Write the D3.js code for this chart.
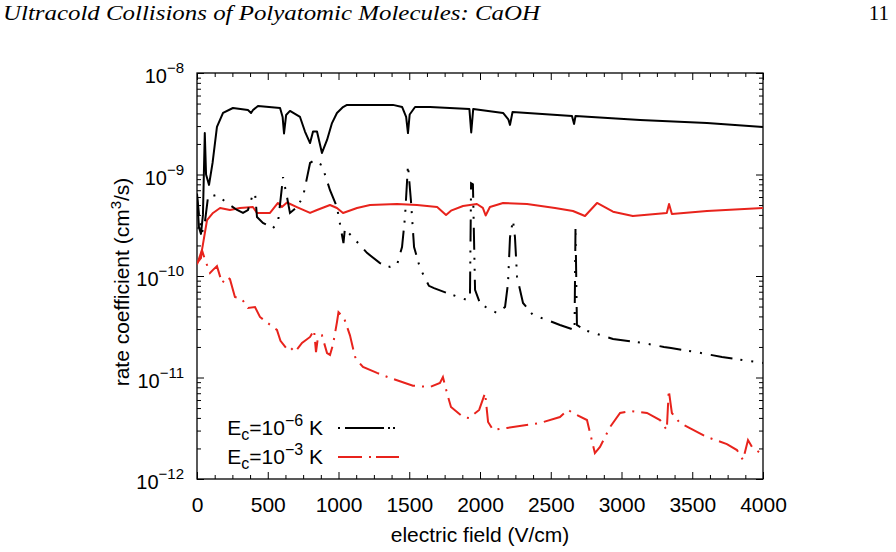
<!DOCTYPE html>
<html>
<head>
<meta charset="utf-8">
<script src="https://cdn.jsdelivr.net/npm/d3@7"></script>
<style>
  body { margin: 0; background: #fff; }
  svg { display: block; }
  text { font-family: "Liberation Sans", Arial, sans-serif; fill: #000; }
</style>
</head>
<body>
<div id="chart"></div>
<script>
// rate coefficients (cm^3/s) vs electric field (V/cm)
const elastic1uK = [
  [0, 6.0e-10], [14, 3.0e-10], [28, 2.6e-10], [42, 4.0e-10], [55, 2.56e-9], [64, 1.0e-9],
  [85, 7.9e-10], [110, 1.3e-9], [141, 2.94e-9], [184, 4.04e-9], [254, 4.52e-9], [360, 4.32e-9],
  [382, 4.04e-9], [396, 4.32e-9], [431, 4.73e-9], [587, 4.52e-9], [605, 3.69e-9], [615, 2.54e-9],
  [630, 3.86e-9], [657, 4.23e-9], [728, 3.69e-9], [763, 2.65e-9], [799, 2.04e-9], [820, 2.65e-9],
  [848, 2.65e-9], [883, 1.63e-9], [919, 2.19e-9], [954, 3.21e-9], [989, 4.04e-9], [1032, 4.62e-9],
  [1060, 4.85e-9], [1385, 4.85e-9], [1450, 4.62e-9], [1478, 3.7e-9], [1491, 2.56e-9], [1503, 3.9e-9],
  [1541, 4.62e-9], [1647, 4.62e-9], [1925, 4.42e-9], [1938, 2.6e-9], [1952, 4.42e-9], [2163, 4.04e-9],
  [2200, 3.5e-9], [2212, 3.08e-9], [2230, 4.13e-9], [2650, 3.77e-9], [2665, 3.15e-9], [2675, 3.77e-9],
  [3131, 3.44e-9], [3604, 3.21e-9], [4000, 2.94e-9]
];

const inelastic1uK = [
  [0, 6.5e-10], [14, 4.0e-10], [35, 2.65e-10], [57, 3.5e-10], [78, 6.0e-10], [141, 6.3e-10],
  [212, 5.24e-10], [283, 4.47e-10], [325, 4.18e-10], [360, 4.47e-10], [389, 6.0e-10], [410, 6.6e-10],
  [424, 3.81e-10], [466, 3.33e-10], [537, 2.97e-10], [572, 3.33e-10], [608, 9.4e-10], [636, 6.0e-10],
  [657, 4.18e-10], [706, 4.78e-10], [749, 6.0e-10], [799, 1.30e-9], [820, 1.36e-9], [883, 1.24e-9],
  [940, 7.0e-10], [989, 4.78e-10], [1035, 2.11e-10], [1045, 2.9e-10], [1100, 2.42e-10], [1201, 1.69e-10],
  [1293, 1.34e-10], [1364, 1.23e-10], [1413, 1.28e-10], [1449, 1.93e-10], [1470, 3.81e-10], [1491, 1.24e-9],
  [1512, 5.5e-10], [1534, 1.93e-10], [1576, 1.2e-10], [1639, 8.0e-11], [1675, 7.6e-11], [1767, 6.8e-11],
  [1908, 5.8e-11], [1929, 6.2e-11], [1937, 8.2e-10], [1950, 8.0e-10], [1965, 7.3e-11], [2000, 5.4e-11],
  [2050, 4.84e-11], [2120, 4.32e-11], [2177, 4.95e-11], [2198, 8.5e-11], [2212, 2.4e-10], [2233, 3.56e-10],
  [2247, 2.42e-10], [2262, 9.8e-11], [2304, 5.42e-11], [2374, 4.13e-11], [2473, 3.69e-11], [2565, 3.29e-11],
  [2668, 2.94e-11], [2675, 3.04e-10], [2685, 3.3e-11], [2735, 2.94e-11], [2940, 2.4e-11], [3150, 2.19e-11],
  [3300, 2.0e-11], [3350, 1.95e-11], [3530, 1.78e-11], [3710, 1.59e-11], [4000, 1.39e-11]
];

const elastic1mK = [
  [0, 1.3e-10], [35, 1.8e-10], [71, 3.56e-10], [113, 4.18e-10], [163, 4.68e-10], [233, 4.47e-10],
  [304, 4.68e-10], [395, 4.78e-10], [424, 4.18e-10], [516, 4.18e-10], [572, 5.24e-10], [600, 4.78e-10],
  [636, 5.3e-10], [706, 4.78e-10], [799, 4.18e-10], [848, 4.47e-10], [940, 5.01e-10], [989, 4.68e-10],
  [1032, 4.18e-10], [1131, 4.68e-10], [1223, 5.01e-10], [1413, 5.12e-10], [1555, 5.01e-10], [1697, 4.78e-10],
  [1760, 3.99e-10], [1795, 4.4e-10], [1880, 4.9e-10], [1978, 5.12e-10], [2020, 4.7e-10], [2040, 3.95e-10],
  [2070, 4.78e-10], [2163, 5.24e-10], [2332, 5.12e-10], [2530, 4.68e-10], [2657, 4.37e-10], [2742, 3.9e-10],
  [2827, 5.24e-10], [2940, 4.3e-10], [3080, 3.9e-10], [3320, 4.18e-10], [3336, 5.12e-10], [3356, 4.08e-10],
  [3604, 4.37e-10], [4000, 4.68e-10]
];

const inelastic1mK = [
  [0, 1.34e-10], [28, 1.5e-10], [35, 1.8e-10], [57, 1.44e-10], [92, 1.07e-10], [113, 1.15e-10],
  [141, 1.25e-10], [177, 8.53e-11], [212, 9.8e-11], [233, 9.3e-11], [268, 6.21e-11], [318, 5.9e-11],
  [360, 4.84e-11], [410, 4.95e-11], [445, 3.95e-11], [500, 3.44e-11], [565, 2.94e-11], [590, 2.3e-11],
  [640, 1.87e-11], [664, 1.95e-11], [693, 1.78e-11], [742, 2.19e-11], [799, 2.51e-11], [827, 2.94e-11],
  [841, 1.78e-11], [855, 2.51e-11], [883, 2.6e-11], [919, 1.74e-11], [940, 1.67e-11], [961, 2.1e-11],
  [989, 3.5e-11], [1000, 4.4e-11], [1039, 3.86e-11], [1081, 2.6e-11], [1117, 1.6e-11], [1130, 1.49e-11],
  [1173, 1.27e-11], [1272, 1.11e-11], [1364, 9.9e-12], [1526, 8.3e-12], [1647, 8.06e-12], [1717, 8.83e-12],
  [1738, 1.01e-11], [1767, 7.0e-12], [1795, 5.12e-12], [1880, 4.08e-12], [1922, 3.99e-12], [1994, 4.79e-12],
  [2036, 7.03e-12], [2057, 3.65e-12], [2092, 3.04e-12], [2191, 3.18e-12], [2424, 3.56e-12], [2565, 4.08e-12],
  [2622, 4.79e-12], [2657, 4.47e-12], [2756, 3.81e-12], [2812, 1.80e-12], [2848, 2.07e-12], [2919, 3.25e-12],
  [2990, 4.47e-12], [3060, 4.68e-12], [3180, 4.47e-12], [3272, 3.81e-12], [3320, 3.04e-12], [3334, 7.53e-12],
  [3356, 4.47e-12], [3413, 3.56e-12], [3604, 2.59e-12], [3745, 2.21e-12], [3816, 1.93e-12], [3859, 1.54e-12],
  [3894, 2.42e-12], [3922, 2.07e-12], [4000, 1.72e-12]
];

const xTicks = [0, 500, 1000, 1500, 2000, 2500, 3000, 3500, 4000];
const yExponents = [-12, -11, -10, -9, -8];
const legendExponents = [-6, -3];

const RED = "#e8231c";

// plot box in page pixels
const margin = { top: 73, right: 133, bottom: 73, left: 197 };
const W = 896, H = 552;
const width = W - margin.left - margin.right;
const height = H - margin.top - margin.bottom;

const sup = n => String(n).replace("-", "\u2212");

const svg = d3.select("#chart").append("svg")
  .attr("width", W)
  .attr("height", H);

// running header
svg.append("text")
  .attr("x", 3).attr("y", 20)
  .attr("textLength", 537)
  .attr("lengthAdjust", "spacingAndGlyphs")
  .style("font-family", "'Liberation Serif', 'DejaVu Serif', serif")
  .style("font-style", "italic")
  .style("font-size", "21px")
  .text("Ultracold Collisions of Polyatomic Molecules: CaOH");

svg.append("text")
  .attr("x", 889).attr("y", 20)
  .attr("text-anchor", "end")
  .style("font-family", "'Liberation Serif', 'DejaVu Serif', serif")
  .style("font-size", "21px")
  .text("11");

const g = svg.append("g")
  .attr("transform", `translate(${margin.left},${margin.top})`);

const x = d3.scaleLinear().domain([0, 4000]).range([0, width]);
const y = d3.scaleLog().domain([1e-12, 1e-8]).range([height, 0]);

g.append("clipPath").attr("id", "plot-clip")
  .append("rect").attr("width", width).attr("height", height);

// ticks, inward on all four sides
const xMinor = d3.range(0, 4001, 125).filter(v => v % 500 !== 0);
const yMinor = [];
yExponents.slice(0, -1).forEach(e => {
  for (let m = 2; m <= 9; m++) yMinor.push(m * Math.pow(10, e));
});
const yMajor = yExponents.map(e => Math.pow(10, e));

function styleAxis(sel) {
  sel.select(".domain").remove();
  sel.selectAll(".tick line").attr("stroke", "#000").attr("stroke-width", 1);
}

g.append("g").attr("transform", `translate(0,${height})`)
  .call(d3.axisBottom(x).tickValues(xMinor).tickSize(-4).tickFormat(""))
  .call(styleAxis);
g.append("g").attr("transform", `translate(0,${height})`)
  .call(d3.axisBottom(x).tickValues(xTicks).tickSize(-7).tickPadding(18).tickFormat(d3.format("d")))
  .call(styleAxis)
  .call(s => s.selectAll(".tick text")
    .style("font-size", "21px")
    .style("font-family", "'Liberation Sans', Arial, sans-serif"));
g.append("g")
  .call(d3.axisTop(x).tickValues(xMinor).tickSize(-4).tickFormat(""))
  .call(styleAxis);
g.append("g")
  .call(d3.axisTop(x).tickValues(xTicks).tickSize(-7).tickFormat(""))
  .call(styleAxis);

g.append("g")
  .call(d3.axisLeft(y).tickValues(yMinor).tickSize(-4).tickFormat(""))
  .call(styleAxis);
g.append("g")
  .call(d3.axisLeft(y).tickValues(yMajor).tickSize(-7).tickFormat(""))
  .call(styleAxis);
g.append("g").attr("transform", `translate(${width},0)`)
  .call(d3.axisRight(y).tickValues(yMinor).tickSize(-4).tickFormat(""))
  .call(styleAxis);
g.append("g").attr("transform", `translate(${width},0)`)
  .call(d3.axisRight(y).tickValues(yMajor).tickSize(-7).tickFormat(""))
  .call(styleAxis);

// y tick labels 10^n
const yLab = g.append("g").selectAll("text")
  .data(yExponents)
  .join("text")
  .attr("x", -13)
  .attr("y", d => y(Math.pow(10, d)) + 10)
  .attr("text-anchor", "end")
  .style("font-size", "20px");
yLab.append("tspan").text("10");
yLab.append("tspan").attr("dy", -10).style("font-size", "15px").text(d => sup(d));

// frame
g.append("rect")
  .attr("width", width).attr("height", height)
  .attr("fill", "none").attr("stroke", "#000").attr("stroke-width", 1.3);

// axis titles
g.append("text")
  .attr("x", width / 2).attr("y", height + 63)
  .attr("text-anchor", "middle")
  .style("font-size", "21px")
  .text("electric field (V/cm)");

const yTitle = g.append("text")
  .attr("transform", `translate(-68,${height / 2 + 6}) rotate(-90)`)
  .attr("text-anchor", "middle")
  .style("font-size", "21px");
yTitle.append("tspan").text("rate coefficient (cm");
yTitle.append("tspan").attr("dy", -8).style("font-size", "15px").text("3");
yTitle.append("tspan").attr("dy", 8).text("/s)");

// curves
const line = d3.line()
  .x(d => x(d[0]))
  .y(d => y(d[1]));

const curves = g.append("g").attr("clip-path", "url(#plot-clip)");

curves.append("path").datum(elastic1mK)
  .attr("fill", "none").attr("stroke", RED).attr("stroke-width", 2)
  .attr("stroke-linejoin", "round").attr("d", line);

curves.append("path").datum(inelastic1mK)
  .attr("fill", "none").attr("stroke", RED).attr("stroke-width", 2)
  .attr("stroke-dasharray", "22,7,2,7")
  .attr("d", line);

curves.append("path").datum(elastic1uK)
  .attr("fill", "none").attr("stroke", "#000").attr("stroke-width", 2)
  .attr("stroke-linejoin", "round").attr("d", line);

curves.append("path").datum(inelastic1uK)
  .attr("fill", "none").attr("stroke", "#000").attr("stroke-width", 2)
  .attr("stroke-dasharray", "22,8,2,9,2,9")
  .attr("d", line);

// legend
const legend = g.append("g").attr("transform", "translate(0,355)");
const legendStyle = [
  { stroke: "#000", dash: "39,4,2,3,2,5", offset: 48 },
  { stroke: RED, dash: "24,7,2,5", offset: 0 }
];

legendExponents.forEach((e, i) => {
  const row = legend.append("g").attr("transform", `translate(0,${i * 29})`);
  const t = row.append("text")
    .attr("x", 126).attr("y", 7)
    .attr("text-anchor", "end")
    .style("font-size", "21px");
  t.append("tspan").text("E");
  t.append("tspan").attr("dy", 5).style("font-size", "16px").text("c");
  t.append("tspan").attr("dy", -5).text("=10");
  t.append("tspan").attr("dy", -9).style("font-size", "16px").text(sup(e));
  t.append("tspan").attr("dy", 9).text(" K");
  row.append("line")
    .attr("x1", 141).attr("x2", 202)
    .attr("stroke", legendStyle[i].stroke).attr("stroke-width", 2)
    .attr("stroke-dasharray", legendStyle[i].dash)
    .attr("stroke-dashoffset", legendStyle[i].offset);
});
</script>
</body>
</html>
